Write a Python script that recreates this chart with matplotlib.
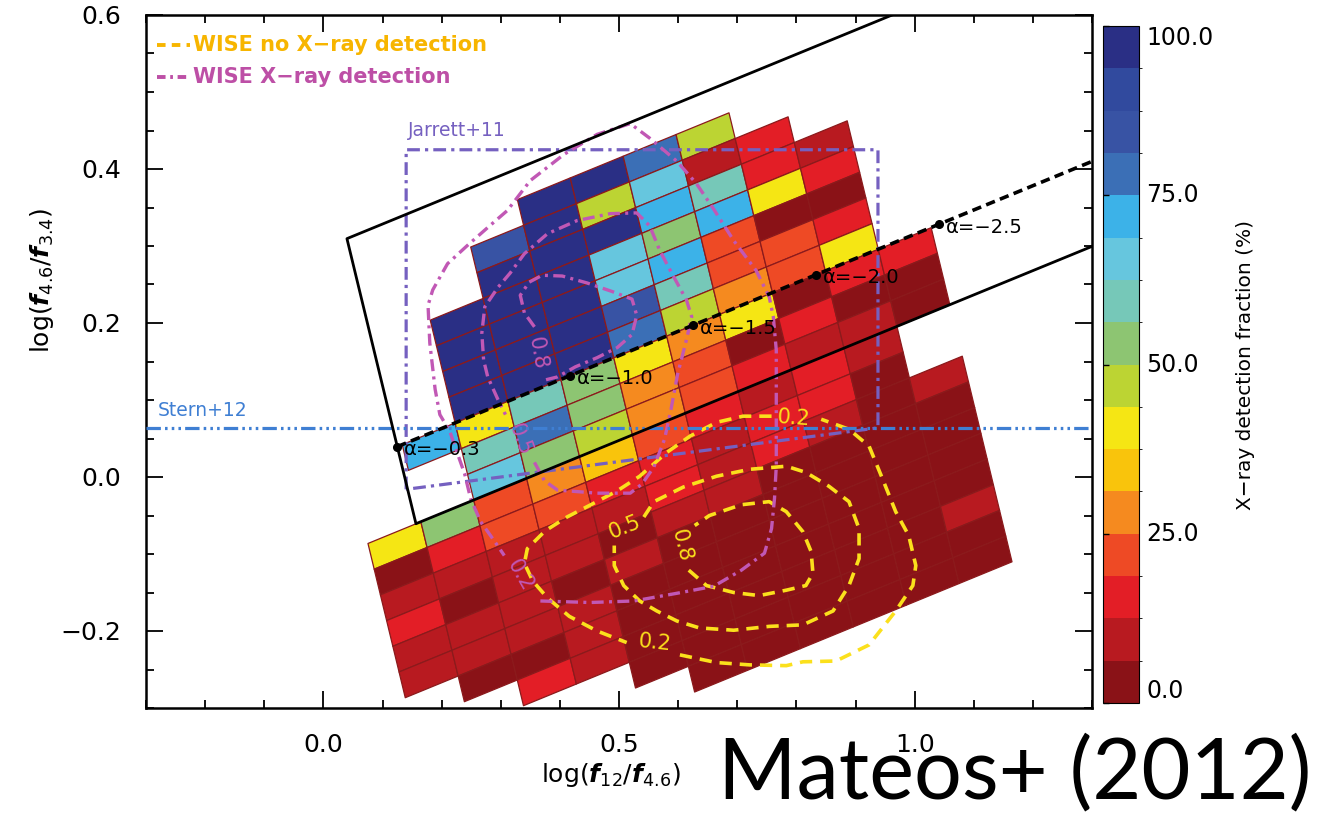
import numpy as np
import matplotlib
matplotlib.use("Agg")
import matplotlib.pyplot as plt
from matplotlib.collections import PolyCollection
from matplotlib.colors import ListedColormap, BoundaryNorm
from matplotlib.ticker import MultipleLocator, FuncFormatter

plt.rcParams['font.family'] = ['DejaVu Sans']
plt.rcParams['mathtext.fontset'] = 'dejavusans'

# 16 colour bands of the X-ray detection fraction (%), low -> high
band_colors = ['#8a1217', '#b81a20', '#e31e26', '#ee4a25', '#f58a1f', '#f9c40c',
               '#f5e614', '#bcd433', '#8dc572', '#76c8b8', '#66c6de', '#3cb2e8',
               '#3b6fb6', '#3853a4', '#314a9e', '#2a2f85']

# detection fraction (%) per bin; rows run from v-index 6 (top) down to -13,
# columns run along the wedge direction
N = None
frac_rows = [
    [N, N, N, N, 97, 97, 78, 47, N, N, N],
    [N, N, N, 84, 97, 47, 66, 9, 16, N, N],
    [N, N, N, 97, 97, 97, 72, 59, 16, 9, N],
    [N, N, 97, 97, 97, 66, 53, 72, 41, 16, N],
    [N, N, 97, 97, 97, 66, 72, 22, 3, 3, N],
    [N, N, 97, 97, 97, 84, 59, 22, 22, 16, N],
    [N, N, 97, 97, 97, 78, 47, 28, 22, 41, N],
    [N, 72, 41, 59, 53, 41, 28, 41, 3, 16, 16],
    [N, N, 59, 78, 53, 28, 22, 3, 16, 3, 3],
    [N, N, 66, 53, 47, 28, 22, 16, 9, 9, 3],
    [41, 53, 22, 28, 34, 22, 16, 9, 16, 9, N],
    [3, 16, 22, 22, 16, 16, 9, 16, 16, 3, N],
    [9, 9, 9, 9, 9, 16, 9, 16, 9, 3, 9],
    [16, 3, 9, 9, 3, 9, 9, 3, 3, 3, 3],
    [9, 9, 9, 3, 9, 3, 3, 3, 3, 3, 3],
    [9, 9, 9, 9, 3, 3, 3, 3, 3, 3, 3],
    [N, 3, 3, 9, 3, 3, 3, 3, 3, 3, 3],
    [N, N, 16, 9, 3, 3, 3, 3, 3, 3, 9],
    [N, N, N, N, 3, 3, 3, 3, 3, 3, 3],
    [N, N, N, N, N, 3, 3, 3, 3, 3, 3],
]
row_top = 6
slope = 0.315            # wedge / power-law slope
u0, du, dv = 0.046, 0.0938, 0.035

# Mateos+12 wedge
wedge_top_b, wedge_bot_b = 0.297, -0.110
wedge_left_m, wedge_left_b = -3.172, 0.436

# power-law locus points
alphas = [-0.3, -1.0, -1.5, -2.0, -2.5]
lx = np.log10(12.0 / 4.6)
ly = np.log10(4.6 / 3.4)

# Jarrett+11 box and Stern+12 cut
jar_x = [0.140, 0.938]
jar_top = 0.425
jar_bot_m, jar_bot_b = 0.1, -0.030
stern_y = 0.063

# contours of WISE sources without X-ray detection (dashed)
y02a_x = [0.603, 0.665, 0.721, 0.783, 0.811, 0.867, 0.923, 0.968, 0.997, 1.002, 0.990,
          0.968, 0.946, 0.923, 0.889, 0.842]
y02a_y = [-0.231, -0.241, -0.244, -0.245, -0.240, -0.239, -0.218, -0.174, -0.141, -0.115,
          -0.076, -0.045, -0.003, 0.040, 0.062, 0.075]
y02b_x = [0.758, 0.710, 0.665, 0.620, 0.581, 0.535, 0.497, 0.455, 0.412, 0.375, 0.345,
          0.340, 0.354, 0.379, 0.416, 0.463, 0.513]
y02b_y = [0.079, 0.079, 0.071, 0.053, 0.032, 0.001, -0.018, -0.035, -0.052, -0.070, -0.093,
          -0.112, -0.135, -0.157, -0.181, -0.200, -0.215]
y05_x = [0.542, 0.559, 0.609, 0.665, 0.721, 0.783, 0.816, 0.855, 0.889, 0.906, 0.906, 0.889,
         0.862, 0.811, 0.754, 0.694, 0.636, 0.598, 0.564, 0.535, 0.508, 0.492, 0.492]
y05_y = [-0.052, -0.032, -0.013, 0.001, 0.010, 0.014, 0.006, -0.012, -0.032, -0.067, -0.106,
         -0.141, -0.174, -0.192, -0.194, -0.199, -0.196, -0.187, -0.174, -0.161, -0.141,
         -0.115, -0.089]
y08_x = [0.618, 0.648, 0.694, 0.737, 0.783, 0.816, 0.828, 0.825, 0.811, 0.783, 0.754, 0.707,
         0.653, 0.628]
y08_y = [-0.121, -0.141, -0.150, -0.154, -0.147, -0.141, -0.125, -0.097, -0.071, -0.045,
         -0.032, -0.036, -0.050, -0.063]

# contours of WISE sources with X-ray detection (dash-dot)
m02_x = [0.367, 0.451, 0.525, 0.598, 0.660, 0.707, 0.746, 0.758, 0.763, 0.766, 0.766, 0.766,
         0.761, 0.754, 0.732, 0.694, 0.660, 0.631, 0.598, 0.552, 0.519, 0.463, 0.407, 0.350,
         0.311, 0.278, 0.244, 0.210, 0.185, 0.177, 0.180, 0.189, 0.197, 0.214, 0.227, 0.239,
         0.249, 0.266, 0.290, 0.306]
m02_y = [-0.161, -0.163, -0.161, -0.151, -0.142, -0.121, -0.099, -0.067, -0.028, 0.014, 0.101,
         0.165, 0.208, 0.234, 0.268, 0.307, 0.348, 0.381, 0.410, 0.440, 0.459, 0.445, 0.419,
         0.385, 0.346, 0.324, 0.301, 0.277, 0.243, 0.223, 0.174, 0.114, 0.081, 0.059, 0.030,
         0.004, -0.028, -0.058, -0.084, -0.102]
m05_x = [0.357, 0.374, 0.396, 0.463, 0.519, 0.539, 0.559, 0.577, 0.588, 0.599, 0.614, 0.623,
         0.614, 0.589, 0.569, 0.552, 0.530, 0.485, 0.429, 0.379, 0.340, 0.316, 0.295, 0.273,
         0.268, 0.271, 0.278, 0.295, 0.308]
m05_y = [0.019, -0.005, -0.017, -0.021, -0.021, -0.009, 0.013, 0.049, 0.088, 0.133, 0.178,
         0.208, 0.230, 0.265, 0.294, 0.326, 0.343, 0.342, 0.333, 0.316, 0.290, 0.265, 0.246,
         0.221, 0.187, 0.152, 0.130, 0.101, 0.081]
m08_x = [0.357, 0.340, 0.333, 0.348, 0.370, 0.404, 0.446, 0.488, 0.522, 0.530, 0.522, 0.497,
         0.463, 0.426, 0.396, 0.375]
m08_y = [0.195, 0.213, 0.236, 0.253, 0.262, 0.261, 0.252, 0.241, 0.231, 0.210, 0.185, 0.168,
         0.155, 0.143, 0.130, 0.126]

# contour labels: (x, y, text, rotation)
yellow_labels = [(0.510, -0.065, '0.5', 22), (0.606, -0.089, '0.8', -76),
                 (0.561, -0.215, '0.2', -6), (0.795, 0.077, '0.2', -4)]
magenta_labels = [(0.362, 0.161, '0.8', -80), (0.333, 0.049, '0.5', -70),
                  (0.332, -0.128, '0.2', -60)]

YELLOW = '#fbe01c'
MAGENTA = '#c158b5'
JARRETT = '#7560c0'
STERN = '#3f7fd3'


def to_xy(u, v):
    n = np.hypot(1.0, slope)
    return (u - slope * v) / n, (slope * u + v) / n


fig = plt.figure(figsize=(13.36, 8.27), dpi=100)
ax = fig.add_axes([146 / 1336, (827 - 708) / 827, 946 / 1336, 693 / 827])
ax.set_xlim(-0.3, 1.3)
ax.set_ylim(-0.3, 0.6)

# binned detection fraction
polys, vals = [], []
for i, row in enumerate(frac_rows):
    r = row_top - i
    for c, val in enumerate(row):
        if val is None:
            continue
        ua, ub = u0 + c * du, u0 + (c + 1) * du
        va, vb = r * dv, (r + 1) * dv
        polys.append([to_xy(ua, va), to_xy(ub, va), to_xy(ub, vb), to_xy(ua, vb)])
        vals.append(val)

cmap = ListedColormap(band_colors)
norm = BoundaryNorm(np.linspace(0, 100, 17), cmap.N)
pc = PolyCollection(polys, array=np.array(vals, dtype=float), cmap=cmap, norm=norm,
                    edgecolors='#8b1a1c', linewidths=0.9, zorder=1)
ax.add_collection(pc)

# Jarrett box and Stern line
jx = [jar_x[0], jar_x[0], jar_x[1], jar_x[1], jar_x[0]]
jy = [jar_bot_m * jar_x[0] + jar_bot_b, jar_top, jar_top,
      jar_bot_m * jar_x[1] + jar_bot_b, jar_bot_m * jar_x[0] + jar_bot_b]
ax.plot(jx, jy, color=JARRETT, lw=2.3, ls=(0, (4.0, 1.6, 1.0, 1.6)), zorder=3)
ax.axhline(stern_y, color=STERN, lw=2.3, ls=(0, (4.5, 1.3, 0.8, 1.3, 0.8, 1.3, 0.8, 1.3)),
           zorder=6)
ax.text(jar_x[0] + 0.003, jar_top + 0.025, 'Jarrett+11', color=JARRETT, fontsize=13.5,
        va='center', ha='left')
ax.text(-0.28, stern_y + 0.024, 'Stern+12', color=STERN, fontsize=13.5, va='center', ha='left')

# contours
for cx, cy in [(y02a_x, y02a_y), (y02b_x, y02b_y), (y05_x, y05_y), (y08_x, y08_y)]:
    ax.plot(cx, cy, color=YELLOW, lw=2.6, ls=(0, (3.4, 2.2)), zorder=4)
for cx, cy in [(m02_x, m02_y), (m05_x, m05_y), (m08_x, m08_y)]:
    ax.plot(cx, cy, color=MAGENTA, lw=2.4, ls=(0, (3.6, 1.6, 0.9, 1.6)), zorder=4)
for x, y, s, rot in yellow_labels:
    ax.text(x, y, s, color=YELLOW, fontsize=15, rotation=rot, ha='center', va='center', zorder=5)
for x, y, s, rot in magenta_labels:
    ax.text(x, y, s, color=MAGENTA, fontsize=15, rotation=rot, ha='center', va='center', zorder=5)

# wedge
x_tl = (wedge_left_b - wedge_top_b) / (slope - wedge_left_m)
x_bl = (wedge_left_b - wedge_bot_b) / (slope - wedge_left_m)
xr = 1.35
ax.plot([xr, x_tl, x_bl, xr],
        [slope * xr + wedge_top_b, slope * x_tl + wedge_top_b,
         slope * x_bl + wedge_bot_b, slope * xr + wedge_bot_b],
        color='black', lw=2.0, zorder=7)

# power-law locus
a_end = -3.3
ax.plot([-alphas[0] * lx, -a_end * lx], [-alphas[0] * ly, -a_end * ly],
        color='black', lw=2.6, ls=(0, (2.6, 1.5)), zorder=7)
for a in alphas:
    ax.plot(-a * lx, -a * ly, 'o', color='black', ms=5.5, zorder=8)
    ax.annotate('\u03b1=\u2212%.1f' % abs(a), (-a * lx, -a * ly), xytext=(5, -2),
                textcoords='offset points', fontsize=14, va='center', ha='left', zorder=8)

# legend
ax.plot([0.012, 0.047], [0.957, 0.957], transform=ax.transAxes, color='#f7b500', lw=2.8,
        ls=(0, (2.2, 1.6)))
ax.text(0.050, 0.957, 'WISE no X\u2212ray detection', transform=ax.transAxes, color='#f7b500',
        fontsize=15, fontweight='bold', va='center')
ax.plot([0.012, 0.047], [0.911, 0.911], transform=ax.transAxes, color='#bd4fa6', lw=2.8,
        ls=(0, (2.2, 1.2, 0.7, 1.2)))
ax.text(0.050, 0.911, 'WISE X\u2212ray detection', transform=ax.transAxes, color='#bd4fa6',
        fontsize=15, fontweight='bold', va='center')

# axes styling
fmt = FuncFormatter(lambda v, p: ('%.1f' % v).replace('-', '\u2212') if abs(v) > 1e-9 else '0.0')
ax.xaxis.set_major_locator(MultipleLocator(0.5))
ax.xaxis.set_minor_locator(MultipleLocator(0.1))
ax.yaxis.set_major_locator(MultipleLocator(0.2))
ax.yaxis.set_minor_locator(MultipleLocator(0.05))
ax.xaxis.set_major_formatter(fmt)
ax.yaxis.set_major_formatter(fmt)
ax.tick_params(which='both', direction='in', top=True, right=True, width=1.3, labelsize=18)
ax.tick_params(which='major', length=12, pad=18)
ax.tick_params(which='minor', length=6)
for s in ax.spines.values():
    s.set_linewidth(1.8)

fig.text(42 / 1336, 1 - 280 / 827, r'log($\mathbfit{f}_{4.6}$/$\mathbfit{f}_{3.4}$)',
         rotation=90, fontsize=18, ha='center', va='center')
fig.text(611 / 1336, 1 - 775 / 827, r'log($\mathbfit{f}_{12}$/$\mathbfit{f}_{4.6}$)',
         fontsize=18, ha='center', va='center')

# colour bar
cax = fig.add_axes([1103 / 1336, (827 - 703) / 827, 36 / 1336, 677 / 827])
cb = fig.colorbar(pc, cax=cax, ticks=[0, 25, 50, 75, 100])
cb.outline.set_linewidth(0.8)
cax.tick_params(direction='in', left=True, right=False, labelright=False, length=4, width=1)
for v in [0, 25, 50, 75, 100]:
    va = 'top' if v == 100 else ('bottom' if v == 0 else 'center')
    cax.text(1.2, v, '%.1f' % v, transform=cax.get_yaxis_transform(), fontsize=17,
             va=va, ha='left')
cax.text(3.95, 0.5, 'X\u2212ray detection fraction (%)', transform=cax.transAxes,
         rotation=90, fontsize=14.5, ha='center', va='center')

fig.text(718 / 1336, 1 - 798 / 827, 'Mateos+ (2012)', fontsize=61, family=['Lato', 'DejaVu Sans'],
         ha='left', va='baseline')

fig.savefig('out.png', dpi=100)
